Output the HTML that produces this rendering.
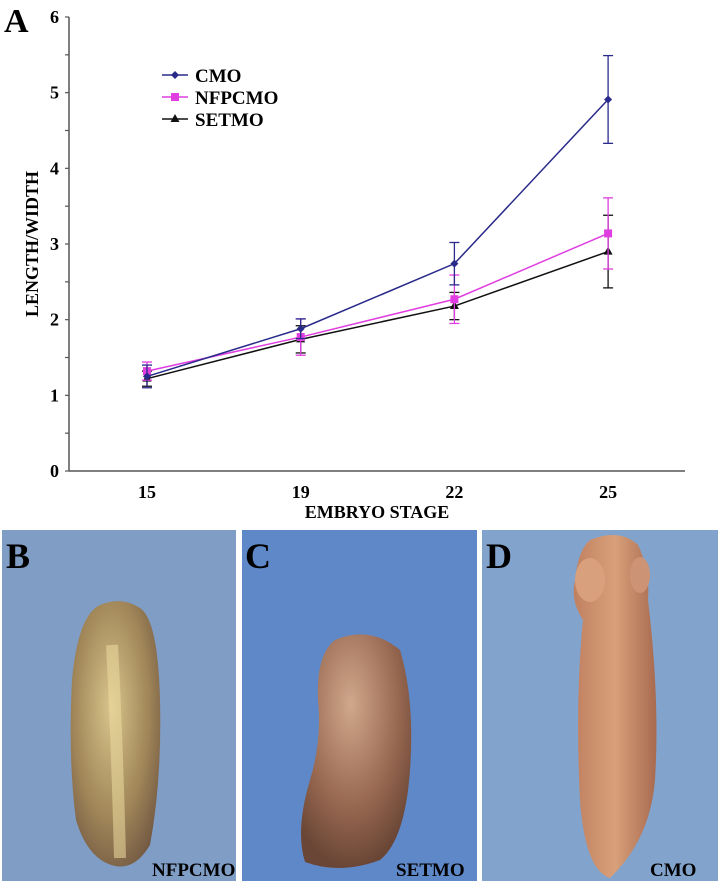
<!DOCTYPE html>
<html><head><meta charset="utf-8"><style>
html,body{margin:0;padding:0;background:#fff;width:719px;height:882px;overflow:hidden}
svg{display:block;font-family:"Liberation Serif",serif;font-weight:bold}
</style></head><body>
<svg id="fig" width="719" height="882" viewBox="0 0 719 882">
<defs>
<radialGradient id="gB" cx="0.45" cy="0.4" r="0.7"><stop offset="0" stop-color="#d8c48c"/><stop offset="0.6" stop-color="#a08658"/><stop offset="1" stop-color="#6e5440"/></radialGradient>
<radialGradient id="gC" cx="0.45" cy="0.3" r="0.7"><stop offset="0" stop-color="#d0a88c"/><stop offset="0.6" stop-color="#9a6a52"/><stop offset="1" stop-color="#6a4636"/></radialGradient>
<linearGradient id="gD" x1="0" x2="1"><stop offset="0" stop-color="#c08060"/><stop offset="0.5" stop-color="#d8a07a"/><stop offset="1" stop-color="#a86a50"/></linearGradient>
</defs>
<text x="4" y="32" font-size="34">A</text>
<g id="chart"></g>
<g>
<rect x="2" y="530" width="234" height="351" fill="#809dc6"/>
<path d="M100,605 Q122,596 140,608 Q158,620 160,700 Q162,780 150,845 Q135,870 115,866 Q88,860 76,820 Q68,760 72,680 Q78,615 100,605Z" fill="url(#gB)"/>
<path d="M112,645 Q117,740 120,858" stroke="#ecdca0" stroke-width="12" fill="none" opacity="0.55"/>
<text x="6" y="568" font-size="36">B</text>
<text x="152" y="876" font-size="19">NFPCMO</text>
</g>
<g>
<rect x="242" y="530" width="235" height="351" fill="#5f88c8"/>
<path d="M335,640 Q370,625 400,650 Q415,700 410,770 Q405,840 380,860 Q340,875 305,862 Q295,830 310,780 Q322,740 318,700 Q316,655 335,640Z" fill="url(#gC)"/>
<text x="245" y="568" font-size="36">C</text>
<text x="396" y="876" font-size="19">SETMO</text>
</g>
<g>
<rect x="482" y="530" width="236" height="351" fill="#82a3cc"/>
<path d="M590,540 Q620,528 638,545 Q650,570 648,600 Q660,700 655,780 Q650,840 610,878 Q585,870 580,800 Q575,700 583,620 Q570,600 575,580 Q578,550 590,540Z" fill="url(#gD)"/>
<ellipse cx="590" cy="580" rx="15" ry="22" fill="#d8a07c"/>
<ellipse cx="640" cy="575" rx="10" ry="18" fill="#cc9474"/>
<text x="486" y="568" font-size="36">D</text>
<text x="650" y="876" font-size="19">CMO</text>
</g>
</svg>
<script>
const stages = ["15","19","22","25"];
const cmo = [1.25, 1.88, 2.74, 4.91];
const cmoErr = [0.15, 0.13, 0.28, 0.58];
const nfp = [1.32, 1.77, 2.27, 3.14];
const nfpErr = [0.12, 0.24, 0.32, 0.47];
const set = [1.22, 1.74, 2.18, 2.90];
const setErr = [0.10, 0.18, 0.18, 0.48];
const yTicks = [0,1,2,3,4,5,6];

const NS="http://www.w3.org/2000/svg";
const g=document.getElementById('chart');
const X0=69, X1=685, Y0=471, Y6=17;
const xPos=i=>147+i*153.7;
const y=v=>Y0-(v/6)*(Y0-Y6);
function mk(t,a,p){const e=document.createElementNS(NS,t);for(const k in a)e.setAttribute(k,a[k]);(p||g).appendChild(e);return e;}

let e=mk('line',{x1:X0,y1:y(6),x2:X0,y2:Y0,stroke:'#555','stroke-width':1.5});


e=mk('line',{x1:X0,y1:Y0,x2:X1,y2:Y0,stroke:'#555','stroke-width':1.5});


for(let v=0;v<=6;v+=0.5){mk('line',{x1:X0-4,y1:y(v),x2:X0,y2:y(v),stroke:'#555','stroke-width':1.2});}
yTicks.forEach(v=>{const t=mk('text',{x:X0-10,y:y(v)+6,'font-size':18,'text-anchor':'end'});t.textContent=v;

});
stages.forEach((s,i)=>{const t=mk('text',{x:xPos(i),y:498,'font-size':18,'text-anchor':'middle'});t.textContent=s;

});
e=mk('text',{x:377,y:518,'font-size':18,'text-anchor':'middle'});e.textContent='EMBRYO STAGE';


e=mk('text',{x:0,y:0,'font-size':18,'text-anchor':'middle',transform:'translate(38,244) rotate(-90)'});e.textContent='LENGTH/WIDTH';



function series(vals,errs,color,marker,name){
  const grp=mk('g',{});
  
  
  vals.forEach((v,i)=>{
    mk('line',{x1:xPos(i),y1:y(v-errs[i]),x2:xPos(i),y2:y(v+errs[i]),stroke:color,'stroke-width':1.3},grp);
    [v-errs[i],v+errs[i]].forEach(w=>mk('line',{x1:xPos(i)-5,y1:y(w),x2:xPos(i)+5,y2:y(w),stroke:color,'stroke-width':1.3},grp));
  });
  mk('polyline',{points:vals.map((v,i)=>xPos(i)+','+y(v)).join(' '),fill:'none',stroke:color,'stroke-width':1.5},grp);
  vals.forEach((v,i)=>{drawMarker(grp,xPos(i),y(v),color,marker);});
}
function drawMarker(p,cx,cy,color,m){
  if(m==='d') mk('path',{d:`M${cx},${cy-4}L${cx+4},${cy}L${cx},${cy+4}L${cx-4},${cy}Z`,fill:color},p);
  else if(m==='s') mk('rect',{x:cx-4,y:cy-4,width:8,height:8,fill:color},p);
  else mk('path',{d:`M${cx},${cy-5}L${cx+4.5},${cy+3}L${cx-4.5},${cy+3}Z`,fill:color},p);
}
series(set,setErr,'#111','t','setmo');
series(nfp,nfpErr,'#e03ee0','s','nfpcmo');
series(cmo,cmoErr,'#2a2a8a','d','cmo');

const leg=[['CMO','#2a2a8a','d'],['NFPCMO','#e03ee0','s'],['SETMO','#111','t']];
leg.forEach((l,i)=>{
  const ly=75+i*22;
  const lg=mk('g',{});
  
  
  mk('line',{x1:162,y1:ly,x2:188,y2:ly,stroke:l[1],'stroke-width':1.5},lg);
  drawMarker(lg,175,ly,l[1],l[2]);
  const t=mk('text',{x:195,y:ly+7,'font-size':19},lg);t.textContent=l[0];
});
</script>
</body></html>
